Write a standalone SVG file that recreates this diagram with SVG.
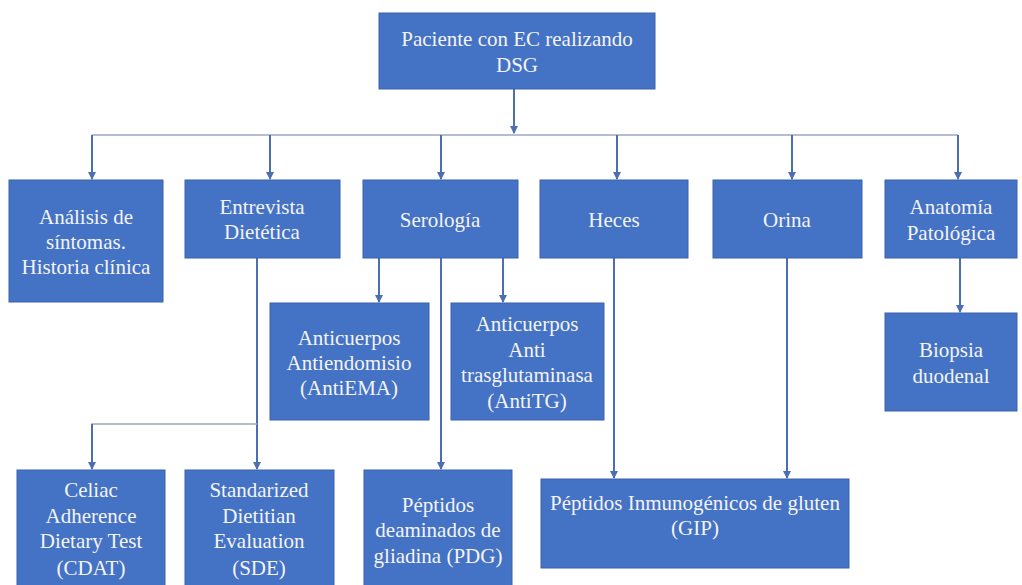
<svg xmlns="http://www.w3.org/2000/svg" width="1022" height="585" viewBox="0 0 1022 585">
  <defs>
    <style>
      .box { fill: #4472C4; stroke: #3A63AE; stroke-width: 1; }
      .lbl { font-family: "Liberation Serif", "Times New Roman", serif; font-size: 21px; fill: #F4F4F4; text-anchor: middle; }
      .drop { fill: none; stroke: #4C6EB2; stroke-width: 2; }
      .bus { fill: none; stroke: #9AA7C6; stroke-width: 1.5; }
    </style>
    <marker id="arrow" viewBox="0 0 8 8" refX="7" refY="4" markerWidth="4" markerHeight="4" orient="auto" markerUnits="strokeWidth">
      <path d="M0,0 L8,4 L0,8 Z" fill="#4C6EB2"/>
    </marker>
  </defs>
  <rect width="1022" height="585" fill="#FFFFFF"/>

  <!-- connectors -->
  <g id="connectors">
    <!-- root to bus -->
    <line class="drop" x1="514" y1="89" x2="514" y2="133" marker-end="url(#arrow)"/>
    <line class="bus" x1="92" y1="135" x2="958" y2="135"/>
    <!-- bus to first row -->
    <line class="drop" x1="92" y1="135" x2="92" y2="179" marker-end="url(#arrow)"/>
    <line class="drop" x1="270" y1="135" x2="270" y2="179" marker-end="url(#arrow)"/>
    <line class="drop" x1="441" y1="135" x2="441" y2="179" marker-end="url(#arrow)"/>
    <line class="drop" x1="617" y1="135" x2="617" y2="179" marker-end="url(#arrow)"/>
    <line class="drop" x1="792" y1="135" x2="792" y2="179" marker-end="url(#arrow)"/>
    <line class="drop" x1="958" y1="135" x2="958" y2="179" marker-end="url(#arrow)"/>
    <!-- Entrevista to CDAT / SDE -->
    <line class="drop" x1="257" y1="258" x2="257" y2="469" marker-end="url(#arrow)"/>
    <polyline class="bus" points="257,424 92,424 92,440"/>
    <line class="drop" x1="92" y1="424" x2="92" y2="469" marker-end="url(#arrow)"/>
    <!-- Serologia branches -->
    <line class="drop" x1="379" y1="258" x2="379" y2="302" marker-end="url(#arrow)"/>
    <line class="drop" x1="503" y1="258" x2="503" y2="302" marker-end="url(#arrow)"/>
    <line class="drop" x1="441" y1="258" x2="441" y2="469" marker-end="url(#arrow)"/>
    <!-- Heces / Orina to GIP -->
    <line class="drop" x1="614" y1="258" x2="614" y2="478" marker-end="url(#arrow)"/>
    <line class="drop" x1="787" y1="258" x2="787" y2="478" marker-end="url(#arrow)"/>
    <!-- Anatomia to Biopsia -->
    <line class="drop" x1="960" y1="258" x2="960" y2="312" marker-end="url(#arrow)"/>
  </g>

  <g id="root">
    <rect class="box" x="379" y="13" width="276" height="76"/>
    <text class="lbl" x="517" y="46">Paciente con EC realizando</text>
    <text class="lbl" x="517" y="72">DSG</text>
  </g>

  <g id="analisis">
    <rect class="box" x="9" y="180" width="154" height="122"/>
    <text class="lbl" x="86" y="224">Análisis de</text>
    <text class="lbl" x="86" y="249">síntomas.</text>
    <text class="lbl" x="86" y="274">Historia clínica</text>
  </g>

  <g id="entrevista">
    <rect class="box" x="185" y="180" width="155" height="78"/>
    <text class="lbl" x="262" y="214">Entrevista</text>
    <text class="lbl" x="262" y="239">Dietética</text>
  </g>

  <g id="serologia">
    <rect class="box" x="363" y="180" width="155" height="78"/>
    <text class="lbl" x="440" y="227">Serología</text>
  </g>

  <g id="heces">
    <rect class="box" x="540" y="180" width="148" height="78"/>
    <text class="lbl" x="614" y="227">Heces</text>
  </g>

  <g id="orina">
    <rect class="box" x="713" y="180" width="149" height="78"/>
    <text class="lbl" x="787" y="227">Orina</text>
  </g>

  <g id="anatomia">
    <rect class="box" x="885" y="180" width="132" height="78"/>
    <text class="lbl" x="951" y="214">Anatomía</text>
    <text class="lbl" x="951" y="240">Patológica</text>
  </g>

  <g id="antiema">
    <rect class="box" x="270" y="303" width="159" height="117"/>
    <text class="lbl" x="349" y="345">Anticuerpos</text>
    <text class="lbl" x="349" y="370">Antiendomisio</text>
    <text class="lbl" x="349" y="395">(AntiEMA)</text>
  </g>

  <g id="antitg">
    <rect class="box" x="451" y="303" width="153" height="117"/>
    <text class="lbl" x="527" y="331">Anticuerpos</text>
    <text class="lbl" x="527" y="357">Anti</text>
    <text class="lbl" x="527" y="382">trasglutaminasa</text>
    <text class="lbl" x="527" y="408">(AntiTG)</text>
  </g>

  <g id="biopsia">
    <rect class="box" x="885" y="313" width="132" height="98"/>
    <text class="lbl" x="951" y="357">Biopsia</text>
    <text class="lbl" x="951" y="383">duodenal</text>
  </g>

  <g id="cdat">
    <rect class="box" x="17" y="470" width="148" height="120"/>
    <text class="lbl" x="91" y="497">Celiac</text>
    <text class="lbl" x="91" y="523">Adherence</text>
    <text class="lbl" x="91" y="548">Dietary Test</text>
    <text class="lbl" x="91" y="575">(CDAT)</text>
  </g>

  <g id="sde">
    <rect class="box" x="185" y="470" width="149" height="120"/>
    <text class="lbl" x="259" y="497">Standarized</text>
    <text class="lbl" x="259" y="523">Dietitian</text>
    <text class="lbl" x="259" y="548">Evaluation</text>
    <text class="lbl" x="259" y="575">(SDE)</text>
  </g>

  <g id="pdg">
    <rect class="box" x="364" y="470" width="148" height="120"/>
    <text class="lbl" x="438" y="512">Péptidos</text>
    <text class="lbl" x="438" y="537">deaminados de</text>
    <text class="lbl" x="438" y="563">gliadina (PDG)</text>
  </g>

  <g id="gip">
    <rect class="box" x="541" y="479" width="308" height="89"/>
    <text class="lbl" x="695" y="510">Péptidos Inmunogénicos de gluten</text>
    <text class="lbl" x="695" y="535">(GIP)</text>
  </g>
</svg>
